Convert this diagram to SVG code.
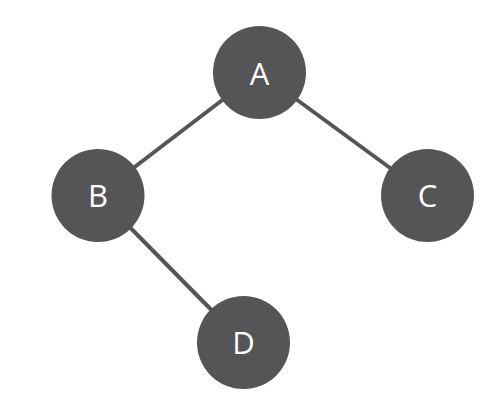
<svg xmlns="http://www.w3.org/2000/svg" width="500" height="417" viewBox="0 0 500 417">
<style>
.edge{stroke:#555557;stroke-width:4;fill:none}
.node circle{fill:#555557}
.node text{fill:#ffffff;font-family:"Open Sans","Noto Sans",sans-serif;font-size:31px;text-anchor:middle}
</style>
<rect width="500" height="417" fill="#ffffff"/>
<g id="edges">
<line class="edge" x1="259" y1="72" x2="98" y2="195"/>
<line class="edge" x1="259" y1="72" x2="427" y2="195"/>
<line class="edge" x1="98" y1="195" x2="244" y2="343"/>
</g>
<g id="A" class="node"><circle cx="259.5" cy="72.5" r="46.5"/><text x="259.5" y="84.5">A</text></g>
<g id="B" class="node"><circle cx="98" cy="195.5" r="46.5"/><text x="98" y="207">B</text></g>
<g id="C" class="node"><circle cx="427.5" cy="195.5" r="46.5"/><text x="427.5" y="207">C</text></g>
<g id="D" class="node"><circle cx="243.5" cy="342.5" r="46.5"/><text x="243.5" y="354">D</text></g>
</svg>
